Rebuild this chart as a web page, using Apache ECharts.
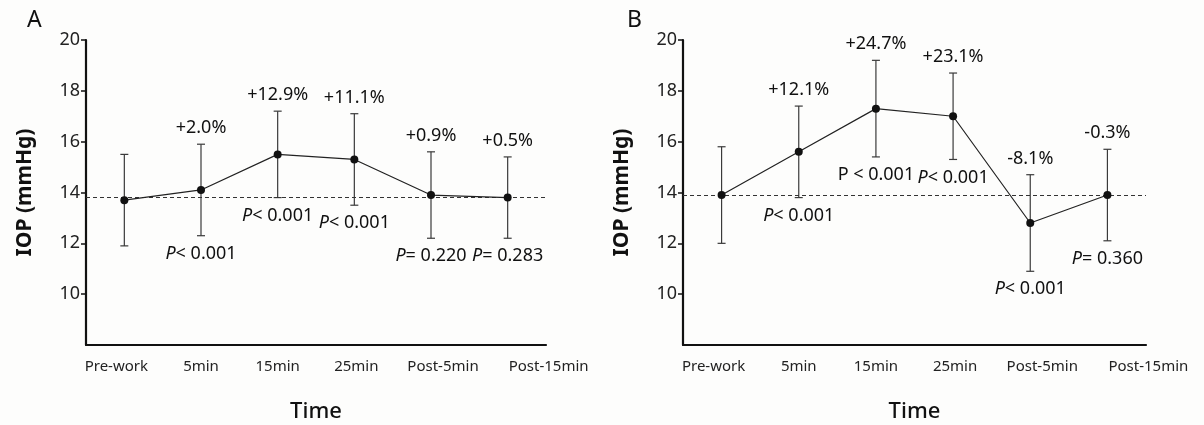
<!DOCTYPE html>
<html>
<head>
<meta charset="utf-8">
<script src="https://cdn.jsdelivr.net/npm/echarts@6/dist/echarts.min.js"></script>
<style>
html,body{margin:0;padding:0;background:#fdfdfc;}
#c{width:1204px;height:425px;}
</style>
</head>
<body>
<div id="c"></div>
<script>
const categories = ['Pre-work', '5min', '15min', '25min', 'Post-5min', 'Post-15min'];
const yTicks = [10, 12, 14, 16, 18, 20];

const meanA = [13.7, 14.1, 15.5, 15.3, 13.9, 13.8];
const sdA = [1.8, 1.8, 1.7, 1.8, 1.7, 1.6];
const baselineA = 13.8;
const pctA = ['', '+2.0%', '+12.9%', '+11.1%', '+0.9%', '+0.5%'];
const pA = ['', '{i|P}< 0.001', '{i|P}< 0.001', '{i|P}< 0.001', '{i|P}= 0.220', '{i|P}= 0.283'];

const meanB = [13.9, 15.6, 17.3, 17.0, 12.8, 13.9];
const sdB = [1.9, 1.8, 1.9, 1.7, 1.9, 1.8];
const baselineB = 13.9;
const pctB = ['', '+12.1%', '+24.7%', '+23.1%', '-8.1%', '-0.3%'];
const pB = ['', '{i|P}< 0.001', 'P < 0.001', '{i|P}< 0.001', '{i|P}< 0.001', '{i|P}= 0.360'];

const FONT = '"Noto Sans", "Open Sans", sans-serif';

// layout: horizontal nudges of category labels (px), as in the original figure
const labelNudge = [-8, 0, 0, 2, 12, 41];

function errRender(pct, pv) {
  return function (params, api) {
    const i = api.value(0), m = api.value(1), s = api.value(2);
    const top = api.coord([i, m + s]);
    const bot = api.coord([i, m - s]);
    const x = top[0];
    const st = { stroke: '#3a3a3a', lineWidth: 1.2 };
    const children = [
      { type: 'line', shape: { x1: x, y1: top[1], x2: x, y2: bot[1] }, style: st },
      { type: 'line', shape: { x1: x - 4, y1: top[1], x2: x + 4, y2: top[1] }, style: st },
      { type: 'line', shape: { x1: x - 4, y1: bot[1], x2: x + 4, y2: bot[1] }, style: st }
    ];
    const k = params.dataIndex;
    if (pct[k]) children.push({
      type: 'text',
      style: { text: pct[k], x: x, y: top[1] - 16, align: 'center', verticalAlign: 'middle',
        fontSize: 18, fontFamily: FONT, fill: '#111' }
    });
    if (pv[k]) children.push({
      type: 'text',
      style: { text: pv[k], x: x, y: bot[1] + 18, align: 'center', verticalAlign: 'middle',
        fontSize: 18, fontFamily: FONT, fill: '#111',
        rich: { i: { fontStyle: 'italic', fontSize: 18, fontFamily: FONT, fill: '#111' } } }
    });
    return { type: 'group', children: children };
  };
}

const labelRich = {};
labelNudge.forEach((d, i) => {
  labelRich['s' + i] = {
    fontSize: 15, fontFamily: FONT, color: '#222',
    padding: d >= 0 ? [0, 0, 0, 2 * d] : [0, -2 * d, 0, 0]
  };
});

function xAxisCfg(gi) {
  return {
    type: 'category', gridIndex: gi, data: categories, boundaryGap: true,
    name: 'Time', nameLocation: 'middle', nameGap: 56,
    nameTextStyle: { fontSize: 22, fontFamily: FONT, color: '#111', fontWeight: 500 },
    axisLine: { lineStyle: { color: '#111', width: 2.2 } },
    axisTick: { alignWithLabel: true, interval: 0, length: 5, lineStyle: { color: '#111', width: 1.5 } },
    axisLabel: {
      interval: 0, fontSize: 15, fontFamily: FONT, color: '#222', margin: 14,
      formatter: (v, idx) => '{s' + idx + '|' + v + '}', rich: labelRich
    },
    splitLine: { show: false }
  };
}
function yAxisCfg(gi) {
  return {
    type: 'value', gridIndex: gi, min: 8, max: 20, interval: 2,
    name: 'IOP (mmHg)', nameLocation: 'middle', nameGap: 50,
    nameTextStyle: { fontSize: 21, fontFamily: FONT, color: '#111', fontWeight: 'bold' },
    axisLine: { show: true, lineStyle: { color: '#111', width: 2.2 } },
    axisTick: { show: true, length: 5, customValues: yTicks, lineStyle: { color: '#111', width: 1.5 } },
    axisLabel: { fontSize: 18, fontFamily: FONT, color: '#222', margin: 6, customValues: yTicks },
    splitLine: { show: false }
  };
}
function lineSeries(gi, mean, base) {
  return {
    type: 'line', xAxisIndex: gi, yAxisIndex: gi, data: mean, z: 5,
    symbol: 'circle', symbolSize: 8, itemStyle: { color: '#111' },
    lineStyle: { color: '#222', width: 1.2 }, animation: false,
    markLine: {
      silent: true, symbol: 'none', animation: false, label: { show: false },
      lineStyle: { type: [4, 3], color: '#333', width: 1 },
      data: [{ yAxis: base }]
    }
  };
}
function errSeries(gi, mean, sd, pct, pv) {
  return {
    type: 'custom', xAxisIndex: gi, yAxisIndex: gi, z: 3, clip: false, animation: false,
    data: mean.map((m, i) => [i, m, sd[i]]),
    renderItem: errRender(pct, pv)
  };
}

const chart = echarts.init(document.getElementById('c'));
chart.setOption({
  backgroundColor: '#fdfdfc',
  animation: false,
  title: [
    { text: 'A', left: 22, top: 4, textStyle: { fontSize: 23, fontWeight: 'normal', fontFamily: FONT, color: '#111' } },
    { text: 'B', left: 622, top: 4, textStyle: { fontSize: 23, fontWeight: 'normal', fontFamily: FONT, color: '#111' } }
  ],
  grid: [
    { left: 86, width: 460, top: 40, height: 305, containLabel: false, outerBoundsMode: 'none' },
    { left: 683, width: 463, top: 40, height: 305, containLabel: false, outerBoundsMode: 'none' }
  ],
  xAxis: [xAxisCfg(0), xAxisCfg(1)],
  yAxis: [yAxisCfg(0), yAxisCfg(1)],
  series: [
    errSeries(0, meanA, sdA, pctA, pA),
    lineSeries(0, meanA, baselineA),
    errSeries(1, meanB, sdB, pctB, pB),
    lineSeries(1, meanB, baselineB)
  ]
});
</script>
</body>
</html>
